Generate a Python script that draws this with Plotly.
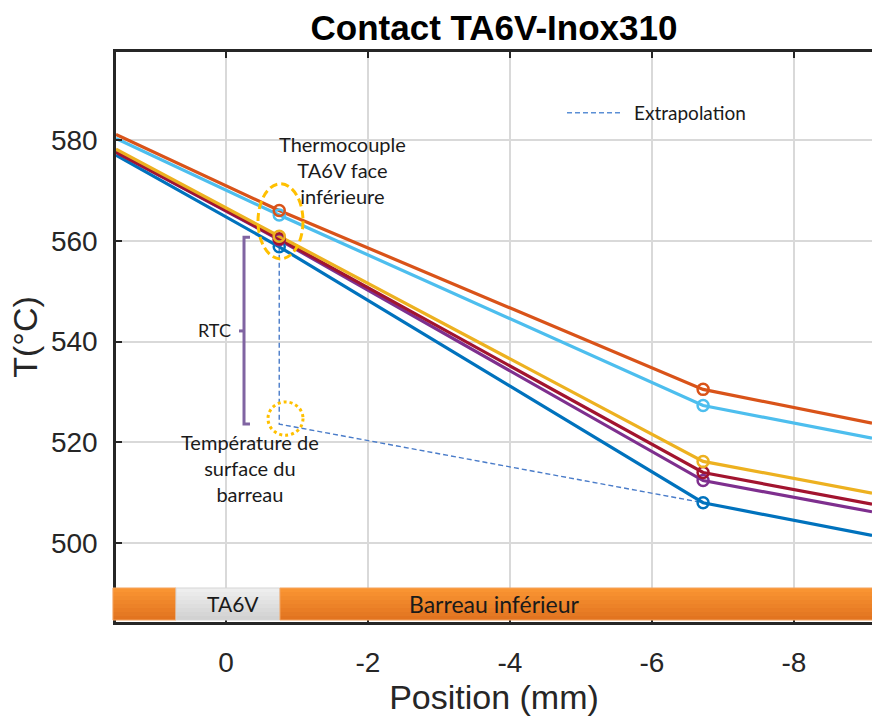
import plotly.graph_objects as go

# ---------------- data ----------------
position_mm = [1.549, -0.75, -6.72, -9.099]      # line support points (mm)
thermocouple_mm = [-0.75, -6.72]                 # thermocouple positions (mm)

t_blue = [577.0, 558.8, 508.0, 501.5]
t_purple = [577.6, 560.2, 512.4, 506.2]
t_darkred = [577.6, 560.4, 514.0, 507.7]
t_lightblue = [580.3, 565.1, 527.3, 520.8]
t_orange = [581.1, 566.0, 530.5, 523.8]
t_yellow = [578.2, 560.9, 516.2, 509.9]

extrap_x = [-0.75, -0.75, -6.72]
extrap_y = [558.8, 523.6, 508.0]

x_ticks = [0, -2, -4, -6, -8]
x_ticklabels = ["0", "-2", "-4", "-6", "-8"]
y_ticks = [500, 520, 540, 560, 580]
y_ticklabels = ["500", "520", "540", "560", "580"]

# material bar segments (mm)
seg_left = [1.592, 0.704]
seg_ta6v = [0.704, -0.761]
seg_barreau = [-0.761, -9.2]

# ---------------- styling ----------------
XR = [1.549, -9.099]
YR = [484.32, 597.47]
AX = "#262626"
FONT_AX = "Liberation Sans"
FONT_TXT = "Lato"

series = [
    ("blue", "#0072BD", t_blue),
    ("purple", "#7E2F8E", t_purple),
    ("darkred", "#A2142F", t_darkred),
    ("lightblue", "#4DBEEE", t_lightblue),
    ("orange", "#D95319", t_orange),
    ("yellow", "#EDB120", t_yellow),
]

fig = go.Figure()
fig.add_trace(go.Scatter(x=extrap_x, y=extrap_y, mode="lines",
                         line=dict(color="#4A7CC9", width=1.4, dash="5px,3px"),
                         showlegend=False, hoverinfo="skip"))
for name, color, vals in series:
    fig.add_trace(go.Scatter(x=position_mm, y=vals, mode="lines", name=name,
                             line=dict(color=color, width=3.2),
                             showlegend=False, hoverinfo="skip"))
for name, color, vals in series:
    fig.add_trace(go.Scatter(x=thermocouple_mm, y=vals[1:3], mode="markers",
                             marker=dict(symbol="circle-open", size=11, color=color,
                                         line=dict(width=2.5, color=color)),
                             showlegend=False, hoverinfo="skip"))


def px_(v):
    return (XR[0] - v) / (XR[0] - XR[1])


def py_(v):
    return (v - YR[0]) / (YR[1] - YR[0])


shapes = []
bar_y0, bar_y1 = 484.71, 491.07


def gradient_rect(x0, x1, top_rgb, bot_rgb, border, n=8):
    for i in range(n):
        f = i / (n - 1)
        c = tuple(int(round(top_rgb[k] + (bot_rgb[k] - top_rgb[k]) * f)) for k in range(3))
        ya = bar_y1 - (bar_y1 - bar_y0) * i / n
        yb = bar_y1 - (bar_y1 - bar_y0) * (i + 1) / n
        shapes.append(dict(type="rect", xref="paper", yref="paper",
                           x0=px_(x0), x1=px_(x1), y0=py_(yb), y1=py_(ya),
                           fillcolor="rgb(%d,%d,%d)" % c, line=dict(width=0), layer="above"))
    shapes.append(dict(type="rect", xref="paper", yref="paper",
                       x0=px_(x0), x1=px_(x1), y0=py_(bar_y0), y1=py_(bar_y1),
                       fillcolor="rgba(0,0,0,0)", line=dict(width=1, color=border), layer="above"))


gradient_rect(seg_left[0], seg_left[1], (249, 148, 50), (226, 116, 32), "#F4A460")
gradient_rect(seg_ta6v[0], seg_ta6v[1], (238, 238, 238), (210, 210, 210), "#D6D6D6")
gradient_rect(seg_barreau[0], seg_barreau[1], (249, 148, 50), (226, 116, 32), "#F4A460")

# thermocouple ellipse (dashed) and surface temperature circle (dotted)
shapes.append(dict(type="circle", xref="x", yref="y", x0=-0.451, x1=-1.085, y0=556.4, y1=571.3,
                   line=dict(color="#FFC000", width=3, dash="8px,4px"), layer="above"))
shapes.append(dict(type="circle", xref="x", yref="y", x0=-0.592, x1=-1.085, y0=521.4, y1=528.0,
                   line=dict(color="#FFC000", width=3, dash="3px,3px"), layer="above"))
# RTC bracket
shapes.append(dict(type="path", xref="x", yref="y",
                   path="M -0.338,560.7 L -0.254,560.7 L -0.254,523.6 L -0.338,523.6",
                   line=dict(color="#8064A2", width=3), layer="above"))
shapes.append(dict(type="line", xref="x", yref="y", x0=-0.254, x1=-0.183, y0=542.1, y1=542.1,
                   line=dict(color="#8064A2", width=3), layer="above"))
# legend sample
shapes.append(dict(type="line", xref="x", yref="y", x0=-4.803, x1=-5.592, y0=585.4, y1=585.4,
                   line=dict(color="#5B8FD5", width=1.5, dash="5px,3px"), layer="above"))

txt = dict(family=FONT_TXT, size=20, color="#1A1A1A")
annotations = [
    dict(x=-1.648, y=574.0, xref="x", yref="y", showarrow=False, align="center",
         text="Thermocouple<br>TA6V face<br>inférieure", font=txt),
    dict(x=-0.099, y=542.3, xref="x", yref="y", showarrow=False, xanchor="right",
         text="RTC", font=dict(family=FONT_TXT, size=18, color="#1A1A1A")),
    dict(x=-0.338, y=514.8, xref="x", yref="y", showarrow=False, align="center",
         text="Température de<br>surface du<br>barreau", font=txt),
    dict(x=-5.718, y=585.4, xref="x", yref="y", showarrow=False, xanchor="left",
         text="Extrapolation", font=dict(family=FONT_TXT, size=19, color="#1A1A1A")),
    dict(x=-0.099, y=487.9, xref="x", yref="y", showarrow=False,
         text="TA6V", font=dict(family=FONT_TXT, size=21, color="#1A1A1A")),
    dict(x=-3.789, y=487.9, xref="x", yref="y", showarrow=False,
         text="Barreau inférieur", font=dict(family=FONT_TXT, size=23, color="#1A1A1A")),
]

axis_common = dict(showgrid=True, gridcolor="#D9D9D9", gridwidth=2.2, zeroline=False,
                   showline=True, linecolor=AX, linewidth=2.5, ticks="inside", ticklen=6,
                   tickwidth=2, tickcolor=AX, automargin=False,
                   tickfont=dict(family=FONT_AX, size=28, color=AX))

fig.update_layout(
    width=872, height=717,
    margin=dict(l=116, r=0, t=52, b=95, autoexpand=False),
    paper_bgcolor="white", plot_bgcolor="white",
    title=dict(text="<b>Contact TA6V-Inox310</b>", x=0.5, xref="paper", xanchor="center",
               y=1 - 28 / 717, yref="container", yanchor="middle",
               font=dict(family=FONT_AX, size=35, color="black")),
    xaxis=dict(range=XR, tickvals=x_ticks, ticktext=x_ticklabels, mirror="ticks",
               ticklabelstandoff=14,
               title=dict(text="Position (mm)", standoff=4,
                          font=dict(family=FONT_AX, size=34, color=AX)),
               **axis_common),
    yaxis=dict(range=YR, tickvals=y_ticks, ticktext=y_ticklabels, mirror=False,
               ticklabelstandoff=10,
               title=dict(text="T(°C)", standoff=4,
                          font=dict(family=FONT_AX, size=34, color=AX)),
               **axis_common),
    shapes=shapes,
    annotations=annotations,
)

fig.write_html(
    "out.html",
    config={"displayModeBar": False},
    post_script="document.body.style.margin='0';document.body.style.overflow='hidden';",
)
